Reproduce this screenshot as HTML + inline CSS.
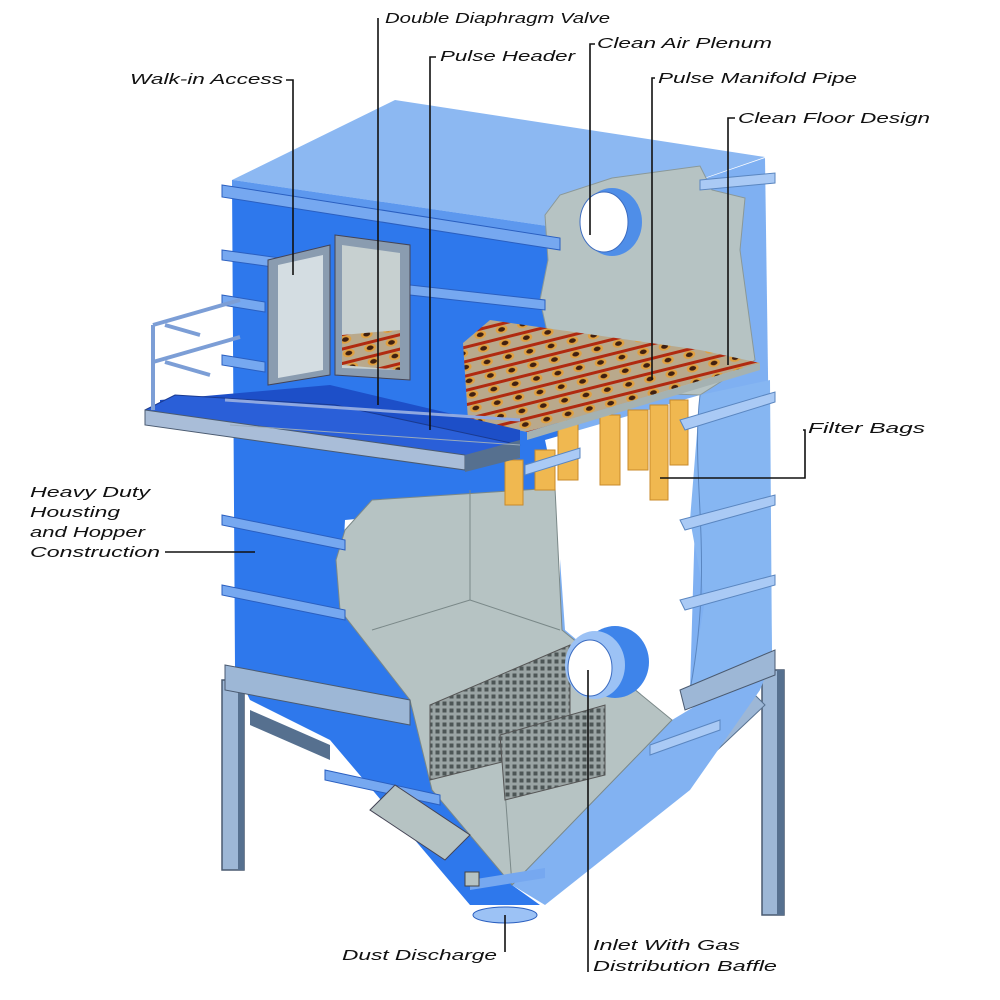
<!DOCTYPE html>
<html><head><meta charset="utf-8"><style>
html,body{margin:0;padding:0;background:#fff;}
svg{display:block;}
text{font-family:"Liberation Sans",sans-serif;font-style:italic;font-size:15px;fill:#111;}
</style></head><body>
<svg width="1000" height="1000" viewBox="0 0 1000 1000" xmlns="http://www.w3.org/2000/svg">
<defs>
<pattern id="grid" width="7" height="7" patternUnits="userSpaceOnUse">
<rect width="7" height="7" fill="#9aa4a4"/><rect x="1.5" y="1.5" width="4" height="4" fill="#4d5656"/>
</pattern>
<pattern id="tube" width="22" height="14" patternUnits="userSpaceOnUse" patternTransform="rotate(-14)">
<rect width="22" height="14" fill="#b9a98c"/>
<ellipse cx="11" cy="7" rx="6" ry="4" fill="#e0a040"/><ellipse cx="11" cy="7" rx="3.5" ry="2.2" fill="#402010"/>
<rect x="0" y="0" width="22" height="3" fill="#b02a10"/>
</pattern>
</defs>

<rect x="222" y="680" width="22" height="190" fill="#9db7d6" stroke="#4a5a70" stroke-width="1.5"/>
<rect x="238" y="680" width="6" height="190" fill="#56708f"/>
<rect x="762" y="670" width="22" height="245" fill="#9db7d6" stroke="#4a5a70" stroke-width="1.5"/>
<rect x="777" y="670" width="7" height="245" fill="#56708f"/>
<polygon points="250,710 330,745 330,760 250,725" fill="#56708f"/>
<polygon points="665,775 755,695 765,705 675,790" fill="#9db7d6" stroke="#56708f"/>

<polygon points="232,180 560,228 560,500 345,520 340,610 410,700 235,668" fill="#2e78ec"/>
<polygon points="560,228 765,158 772,660 690,690 560,700" fill="#7fb0f2"/>
<polygon points="232,180 395,100 765,157 560,228" fill="#8cb8f2"/>
<polygon points="232,180 560,228 560,240 232,192" fill="#5d98ee"/>

<polygon points="545,215 560,195 612,178 700,166 712,190 745,198 740,250 755,360 700,395 560,390 540,300 548,260" fill="#b6c3c3" stroke="#8a9898"/>
<ellipse cx="612" cy="222" rx="30" ry="34" fill="#4f8ee8"/>
<ellipse cx="604" cy="222" rx="24" ry="30" fill="#fff" stroke="#3c6cc0"/>

<polygon points="545,440 700,395 695,520 690,690 672,720 565,630 555,488" fill="#fff"/>
<polygon points="700,395 770,380 772,660 690,690 705,600 690,520" fill="#86b6f2"/>
<path d="M700,395 C690,480 715,560 690,690" stroke="#5a86c0" fill="none"/>

<polygon points="235,668 420,705 512,885 540,905 470,905 330,740 250,700" fill="#2e78ec"/>
<polygon points="672,720 772,660 760,690 690,790 545,905 512,885" fill="#82b2f2"/>

<polygon points="345,530 372,500 555,488 562,630 672,720 512,885 432,790 410,700 340,610 336,560" fill="#b6c3c3" stroke="#7a8888"/>
<polyline points="470,490 470,600 372,630" stroke="#7a8888" fill="none"/>
<polyline points="470,600 560,630" stroke="#7a8888" fill="none"/>
<polyline points="505,790 512,885" stroke="#7a8888" fill="none"/>

<polygon points="430,705 570,645 570,745 430,780" fill="url(#grid)" stroke="#555"/>
<polygon points="500,735 605,705 605,775 505,800" fill="url(#grid)" stroke="#555"/>
<ellipse cx="615" cy="662" rx="34" ry="36" fill="#3e84ea"/>
<ellipse cx="595" cy="665" rx="30" ry="34" fill="#9cc2f5"/>
<ellipse cx="590" cy="668" rx="22" ry="28" fill="#fff" stroke="#3c6cc0"/>

<polygon points="222,515 345,540 345,550 222,525" fill="#76a8f0" stroke="#2a5fc0"/>
<polygon points="222,585 345,610 345,620 222,595" fill="#76a8f0" stroke="#2a5fc0"/>
<polygon points="225,665 410,700 410,725 225,690" fill="#9db7d6" stroke="#4a5a70"/>
<polygon points="325,770 440,795 440,805 325,780" fill="#76a8f0" stroke="#2a5fc0"/>
<polygon points="470,880 545,868 545,878 470,890" fill="#76a8f0"/>
<polygon points="680,690 775,650 775,675 685,710" fill="#9db7d6" stroke="#4a5a70"/>
<polygon points="680,520 775,495 775,505 685,530" fill="#aacaf5" stroke="#5a86c0"/>
<polygon points="680,600 775,575 775,585 685,610" fill="#aacaf5" stroke="#5a86c0"/>
<polygon points="650,745 720,720 720,730 650,755" fill="#aacaf5" stroke="#5a86c0"/>
<polygon points="370,810 395,785 470,835 445,860" fill="#b6c3c3" stroke="#445"/>
<ellipse cx="505" cy="915" rx="32" ry="8" fill="#9cc2f5" stroke="#2a5fc0"/>
<rect x="465" y="872" width="14" height="14" fill="#b6c3c3" stroke="#444"/>

<g fill="#f0b850" stroke="#c88a2a">
<rect x="505" y="460" width="18" height="45"/>
<rect x="535" y="450" width="20" height="40"/>
<rect x="558" y="420" width="20" height="60"/>
<rect x="600" y="415" width="20" height="70"/>
<rect x="628" y="410" width="20" height="60"/>
<rect x="650" y="405" width="18" height="95"/>
<rect x="670" y="400" width="18" height="65"/>
</g>

<polygon points="463,343 490,320 700,350 760,363 527,432 468,420" fill="url(#tube)"/>
<polygon points="527,432 760,363 760,370 527,440" fill="#a5b2b2"/>

<polygon points="222,185 560,238 560,250 222,197" fill="#76a8f0" stroke="#2a5fc0"/>
<polygon points="222,250 280,258 280,268 222,260" fill="#76a8f0" stroke="#2a5fc0"/>
<polygon points="222,295 265,302 265,312 222,305" fill="#76a8f0" stroke="#2a5fc0"/>
<polygon points="222,355 265,362 265,372 222,365" fill="#76a8f0" stroke="#2a5fc0"/>
<polygon points="410,285 545,300 545,310 410,295" fill="#76a8f0" stroke="#2a5fc0"/>
<polygon points="700,180 775,173 775,183 700,190" fill="#aacaf5" stroke="#5a86c0"/>
<polygon points="680,420 775,392 775,402 685,430" fill="#aacaf5" stroke="#5a86c0"/>
<polygon points="525,465 580,448 580,458 525,475" fill="#aacaf5" stroke="#5a86c0"/>

<polygon points="268,260 330,245 330,375 268,385" fill="#8a9cb0" stroke="#445"/>
<polygon points="278,265 323,255 323,370 278,378" fill="#d4dde2"/>
<polygon points="335,235 410,245 410,380 335,375" fill="#8a9cb0" stroke="#445"/>
<polygon points="342,245 400,253 400,370 342,368" fill="#c7d0d0"/>
<polygon points="342,335 400,330 400,370 342,365" fill="url(#tube)"/>

<polygon points="160,400 330,385 520,430 520,450 160,415" fill="#1d4fc8"/>
<polygon points="145,410 175,395 335,405 520,445 465,460 145,418" fill="#2a5fd8" stroke="#1a3a90"/>
<polygon points="145,410 465,455 465,470 145,425" fill="#a9bdd8" stroke="#4a5a70"/>
<polygon points="465,455 520,440 520,458 465,472" fill="#56708f"/>
<line x1="230" y1="425" x2="520" y2="445" stroke="#9ab" stroke-width="1"/>
<line x1="225" y1="400" x2="520" y2="420" stroke="#8fa8e0" stroke-width="3"/>
<g stroke="#7c9ed6" stroke-width="4" fill="none">
<line x1="153" y1="325" x2="153" y2="410"/>
<line x1="153" y1="325" x2="240" y2="300"/>
<line x1="153" y1="362" x2="240" y2="337"/>
<line x1="165" y1="325" x2="200" y2="335"/>
<line x1="165" y1="362" x2="210" y2="375"/>
</g>

<g stroke="#111" stroke-width="1.6" fill="none">
<polyline points="286,80 293,80 293,275"/>
<line x1="378" y1="18" x2="378" y2="405"/>
<polyline points="436,57 430,57 430,430"/>
<polyline points="595,44 590,44 590,235"/>
<polyline points="655,78 652,78 652,380"/>
<polyline points="735,118 728,118 728,365"/>
<polyline points="803,430 805,430 805,478 660,478"/>
<line x1="165" y1="552" x2="255" y2="552"/>
<line x1="505" y1="952" x2="505" y2="915"/>
<line x1="588" y1="972" x2="588" y2="670"/>
</g>

<text x="130" y="84" textLength="153" lengthAdjust="spacingAndGlyphs">Walk-in Access</text>
<text x="385" y="23" textLength="225" lengthAdjust="spacingAndGlyphs">Double Diaphragm Valve</text>
<text x="440" y="61" textLength="135" lengthAdjust="spacingAndGlyphs">Pulse Header</text>
<text x="597" y="48" textLength="175" lengthAdjust="spacingAndGlyphs">Clean Air Plenum</text>
<text x="658" y="83" textLength="199" lengthAdjust="spacingAndGlyphs">Pulse Manifold Pipe</text>
<text x="738" y="123" textLength="192" lengthAdjust="spacingAndGlyphs">Clean Floor Design</text>
<text x="808" y="433" textLength="117" lengthAdjust="spacingAndGlyphs">Filter Bags</text>
<text x="30" y="497" textLength="120" lengthAdjust="spacingAndGlyphs">Heavy Duty</text>
<text x="30" y="517" textLength="90" lengthAdjust="spacingAndGlyphs">Housting</text>
<text x="30" y="537" textLength="115" lengthAdjust="spacingAndGlyphs">and Hopper</text>
<text x="30" y="557" textLength="130" lengthAdjust="spacingAndGlyphs">Construction</text>
<text x="342" y="960" textLength="155" lengthAdjust="spacingAndGlyphs">Dust Discharge</text>
<text x="593" y="950" textLength="147" lengthAdjust="spacingAndGlyphs">Inlet With Gas</text>
<text x="593" y="971" textLength="184" lengthAdjust="spacingAndGlyphs">Distribution Baffle</text>
</svg>
</body></html>
